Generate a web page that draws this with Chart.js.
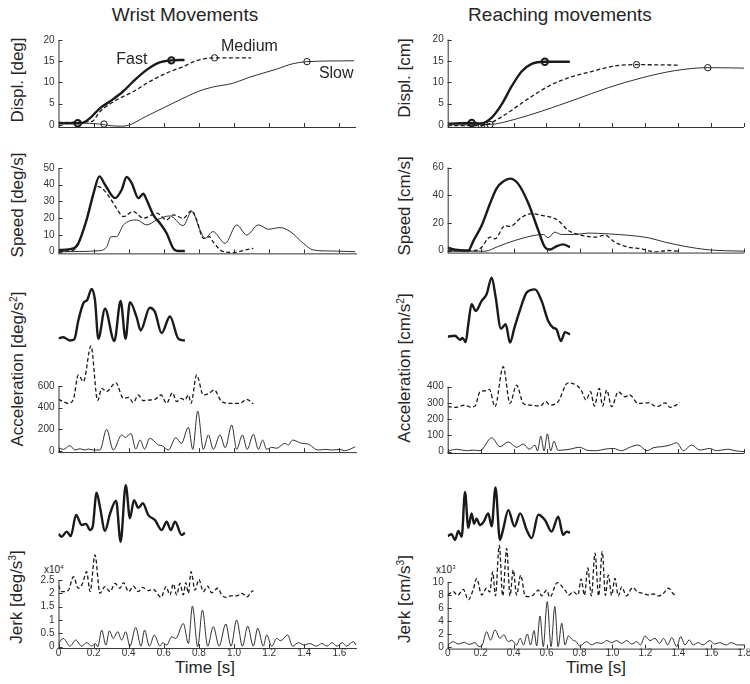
<!DOCTYPE html>
<html>
<head>
<meta charset="utf-8">
<script src="https://cdn.jsdelivr.net/npm/chart.js@4.4.1/dist/chart.umd.min.js"></script>
<style>
  body { margin: 0; width: 750px; height: 684px; position: relative; overflow: hidden; background: #fff;
         font-family: "Liberation Sans", Arial, sans-serif; color: #262626; }
  canvas { position: absolute; }
  .txt { position: absolute; white-space: nowrap; transform: translate(-50%, -50%); }
  .ylab { position: absolute; white-space: nowrap; font-size: 17px; transform: translate(-50%, -50%) rotate(-90deg); }
  .ylab sup, .mult sup { font-size: 0.6em; }
  .mult { position: absolute; white-space: nowrap; font-size: 10px; }
</style>
</head>
<body>
<div class="txt" style="left:185px;top:15px;font-size:19px">Wrist Movements</div>
<div class="txt" style="left:560px;top:15px;font-size:19px">Reaching movements</div>

<div class="ylab" style="left:18px;top:80px">Displ. [deg]</div>
<div class="ylab" style="left:405px;top:78px">Displ. [cm]</div>
<div class="ylab" style="left:18px;top:205px">Speed [deg/s]</div>
<div class="ylab" style="left:405px;top:206px">Speed [cm/s]</div>
<div class="ylab" style="left:18px;top:369px">Acceleration [deg/s<sup>2</sup>]</div>
<div class="ylab" style="left:405px;top:368px">Acceleration [cm/s<sup>2</sup>]</div>
<div class="ylab" style="left:17px;top:597px">Jerk [deg/s<sup>3</sup>]</div>
<div class="ylab" style="left:405px;top:599px">Jerk [cm/s<sup>3</sup>]</div>

<div class="mult" style="left:44px;top:564px">x10<sup>4</sup></div>
<div class="mult" style="left:436px;top:564px">x10<sup>3</sup></div>

<div class="txt" style="left:205px;top:668px;font-size:17px">Time [s]</div>
<div class="txt" style="left:596px;top:668px;font-size:17px">Time [s]</div>

<script>
// ---- tick values / labels ----
const wristTimeTicks = [0, 0.2, 0.4, 0.6, 0.8, 1.0, 1.2, 1.4, 1.6];
const wristTimeLabels = ['0', '0.2', '0.4', '0.6', '0.8', '1.0', '1.2', '1.4', '1.6'];
const reachTimeTicks = [0, 0.2, 0.4, 0.6, 0.8, 1.0, 1.2, 1.4, 1.6, 1.8];
const reachTimeLabels = ['0', '0.2', '0.4', '0.6', '0.8', '1.0', '1.2', '1.4', '1.6', '1.8'];
const dispTicks = [0, 5, 10, 15, 20];
const wristSpeedTicks = [0, 10, 20, 30, 40, 50];
const reachSpeedTicks = [0, 20, 40, 60];
const wristAccTicks = [0, 200, 400, 600];
const reachAccTicks = [0, 100, 200, 300, 400];
const wristJerkTicks = [0, 0.5, 1, 1.5, 2, 2.5];
const reachJerkTicks = [0, 2, 4, 6, 8, 10];

// ---- displacement [t, value] ----
const wristDispFast = [[0,0.4],[0.13,0.4],[0.18,1.6],[0.236,3.9],[0.293,5.5],[0.367,7.8],[0.426,10.2],[0.502,12.9],[0.578,14.7],[0.645,15.2],[0.72,15.3]];
const wristDispMedium = [[0,0.6],[0.19,0.8],[0.236,3.1],[0.293,4.9],[0.35,6.3],[0.426,7.8],[0.52,10.2],[0.617,12.2],[0.71,13.7],[0.787,15.1],[0.892,15.8],[1.1,15.8]];
const wristDispSlow = [[0,0.5],[0.236,0.2],[0.3,-0.2],[0.36,-0.3],[0.4,-0.1],[0.5,2.0],[0.654,5.1],[0.806,8.0],[0.88,8.9],[0.996,9.8],[1.09,11.2],[1.243,13.1],[1.338,14.4],[1.42,14.9],[1.69,15.1]];
const wristDispMarks = {fast: [[0.11,0.4],[0.645,15.2]], medium: [[0.26,0.2],[0.892,15.8]], slow: [[1.42,14.9]]};

const reachDispFast = [[0,0.3],[0.146,0.45],[0.2,0.3],[0.267,1.7],[0.328,4.8],[0.388,9.0],[0.449,12.5],[0.51,14.3],[0.59,14.8],[0.742,14.8]];
const reachDispMedium = [[0,-0.2],[0.206,-0.2],[0.328,1.9],[0.469,5.6],[0.61,9.0],[0.732,11.0],[0.874,12.5],[1.015,13.8],[1.147,14.1],[1.41,14.0]];
const reachDispSlow = [[0,0],[0.257,0.1],[0.408,1.3],[0.57,3.2],[0.772,5.9],[0.975,8.7],[1.177,11.0],[1.38,12.7],[1.58,13.4],[1.8,13.3]];
const reachDispMarks = {fast: [[0.146,0.45],[0.59,14.8]], medium: [[0.206,-0.2],[1.147,14.1]], slow: [[0.257,0.1],[1.58,13.4]]};

// ---- speed ----
const wristSpeedFast = [[0,1],[0.085,2],[0.113,5],[0.16,19],[0.2,35],[0.233,45],[0.265,40],[0.322,32],[0.36,37],[0.388,44.6],[0.417,41],[0.455,32],[0.483,34.6],[0.502,31],[0.54,22],[0.578,17],[0.616,11],[0.654,2],[0.683,0.4],[0.72,0.4]];
const wristSpeedMedium = [[0,0.4],[0.085,1],[0.142,13],[0.18,27],[0.217,39],[0.246,38],[0.294,32],[0.33,26],[0.37,21],[0.426,24],[0.483,20],[0.56,23],[0.616,19],[0.654,22],[0.71,20],[0.759,24.6],[0.787,19],[0.825,8],[0.86,9],[0.88,6],[0.94,0],[0.996,-0.5],[1.063,1],[1.11,2]];
const wristSpeedSlow = [[0,0],[0.236,0.6],[0.275,3],[0.3,9],[0.33,9],[0.37,16],[0.445,19],[0.502,16],[0.56,19],[0.635,21.4],[0.71,15.6],[0.759,24],[0.806,13],[0.835,8],[0.88,12],[0.95,5],[1.015,16],[1.072,10],[1.139,16],[1.196,13.4],[1.262,14.4],[1.32,12],[1.395,5],[1.452,1],[1.566,0.4],[1.69,0]];

const reachSpeedFast = [[0,2],[0.045,0.5],[0.125,0],[0.156,7],[0.206,18],[0.257,34],[0.297,45],[0.338,50],[0.378,52],[0.429,48],[0.49,34],[0.55,14.5],[0.59,2.4],[0.62,0.7],[0.66,3],[0.7,4.4],[0.742,2.4]];
const reachSpeedMedium = [[0,0],[0.166,0],[0.206,2.4],[0.257,9.7],[0.287,8.5],[0.348,18],[0.378,17.4],[0.449,24],[0.51,26.6],[0.57,25.4],[0.63,24],[0.67,21.8],[0.732,14.5],[0.813,11],[0.894,9.7],[0.955,11],[1.015,6],[1.096,2.4],[1.177,1.2],[1.258,-1],[1.34,0],[1.4,-0.5]];
const reachSpeedSlow = [[0,-0.5],[0.227,-0.5],[0.307,3],[0.409,7.3],[0.53,11],[0.58,11.6],[0.61,9.2],[0.65,13.3],[0.69,11.6],[0.77,11.6],[0.854,12.6],[0.975,12],[1.096,11],[1.218,9.2],[1.32,6],[1.44,3],[1.58,0.5],[1.7,-0.2],[1.8,-0.5]];

// ---- acceleration (fast / medium shifted up as in the figure) ----
const wristAccFast = [[0,1040],[0.027,1050],[0.066,1020],[0.09,1030],[0.113,1205],[0.142,1365],[0.164,1396],[0.189,1497],[0.208,1390],[0.227,1036],[0.265,1313],[0.318,1015],[0.354,1384],[0.382,1036],[0.407,1374],[0.445,1236],[0.468,1113],[0.52,1323],[0.55,1282],[0.587,1088],[0.635,1242],[0.683,1036],[0.72,1020]];
const wristAccMedium = [[0,477],[0.027,455],[0.056,440],[0.085,477],[0.113,702],[0.142,640],[0.185,970],[0.223,465],[0.246,578],[0.274,548],[0.326,631],[0.37,486],[0.4,495],[0.426,446],[0.455,517],[0.483,465],[0.512,470],[0.55,477],[0.584,517],[0.616,440],[0.649,538],[0.673,455],[0.698,486],[0.72,470],[0.74,517],[0.755,440],[0.787,702],[0.825,517],[0.858,532],[0.888,563],[0.93,455],[0.987,440],[1.034,440],[1.072,477],[1.11,434]];
const wristAccSlow = [[0,31],[0.027,15],[0.065,49],[0.094,9],[0.122,21],[0.15,9],[0.17,18],[0.2,9],[0.236,9],[0.274,200],[0.312,9],[0.36,148],[0.38,126],[0.413,160],[0.44,18],[0.465,101],[0.49,18],[0.52,117],[0.57,55],[0.59,49],[0.626,9],[0.668,123],[0.70,71],[0.74,218],[0.765,15],[0.793,369],[0.825,15],[0.854,148],[0.882,15],[0.92,148],[0.95,30],[0.987,240],[1.015,15],[1.048,148],[1.075,15],[1.11,154],[1.139,15],[1.163,101],[1.186,15],[1.215,34],[1.243,25],[1.29,71],[1.31,55],[1.333,101],[1.385,71],[1.42,65],[1.48,9],[1.52,15],[1.56,9],[1.6,15],[1.63,3],[1.66,15],[1.69,40]];

const reachAccFast = [[0,708],[0.044,714],[0.075,689],[0.09,700],[0.109,675],[0.125,784],[0.145,907],[0.17,866],[0.206,928],[0.236,969],[0.267,1071],[0.29,958],[0.323,757],[0.352,784],[0.378,671],[0.405,763],[0.44,876],[0.479,979],[0.53,999],[0.57,928],[0.61,804],[0.64,763],[0.66,753],[0.687,681],[0.712,736],[0.742,722]];
const reachAccMedium = [[0,277],[0.044,273],[0.105,287],[0.135,275],[0.166,281],[0.196,369],[0.226,375],[0.253,383],[0.287,277],[0.337,523],[0.378,297],[0.418,410],[0.459,297],[0.5,287],[0.56,281],[0.596,308],[0.62,287],[0.67,308],[0.73,424],[0.78,410],[0.81,379],[0.84,318],[0.867,369],[0.89,281],[0.92,390],[0.94,281],[0.965,379],[0.995,277],[1.035,369],[1.076,338],[1.105,349],[1.155,297],[1.217,301],[1.27,277],[1.32,301],[1.35,273],[1.41,301]];
const reachAccSlow = [[0,4],[0.054,15],[0.115,6],[0.155,10],[0.196,6],[0.267,86],[0.317,31],[0.368,60],[0.418,27],[0.459,47],[0.495,15],[0.53,40],[0.545,5],[0.565,95],[0.585,5],[0.605,110],[0.625,5],[0.645,65],[0.67,8],[0.70,10],[0.74,15],[0.80,27],[0.85,8],[0.904,6],[0.95,15],[1.005,20],[1.055,6],[1.105,27],[1.155,41],[1.21,6],[1.25,25],[1.30,31],[1.35,41],[1.39,55],[1.43,6],[1.48,41],[1.53,10],[1.59,20],[1.63,6],[1.70,15],[1.75,5],[1.8,0]];

// ---- jerk (wrist in 1e4, reach in 1e3) ----
const wristJerkFast = [[0,4.22],[0.018,4.12],[0.047,4.31],[0.07,4.14],[0.1,4.93],[0.132,4.56],[0.157,4.6],[0.18,4.37],[0.195,4.5],[0.217,5.77],[0.236,5.24],[0.265,4.34],[0.294,4.99],[0.328,5.47],[0.354,3.93],[0.383,6.05],[0.407,4.81],[0.43,5.49],[0.455,5.2],[0.48,5.37],[0.512,4.93],[0.55,4.74],[0.588,4.37],[0.616,4.68],[0.64,4.37],[0.664,4.68],[0.702,4.18],[0.72,4.27]];
const wristJerkMedium = [[0,2.3],[0.018,2.06],[0.055,2.1],[0.085,2.62],[0.113,2.19],[0.137,2.37],[0.16,2.81],[0.18,2.06],[0.208,3.44],[0.236,2.0],[0.265,2.25],[0.294,2.06],[0.322,2.37],[0.35,2.19],[0.37,2.4],[0.4,2.06],[0.426,2.27],[0.455,2.06],[0.478,2.22],[0.512,2.1],[0.54,2.15],[0.584,1.85],[0.613,2.25],[0.635,1.94],[0.654,2.35],[0.673,1.94],[0.692,2.37],[0.711,1.94],[0.725,2.4],[0.74,2.0],[0.755,2.81],[0.778,2.12],[0.8,2.52],[0.825,2.06],[0.85,2.27],[0.872,2.02],[0.907,2.19],[0.93,1.94],[0.95,1.85],[0.98,1.9],[1.015,1.9],[1.044,2.0],[1.075,1.87],[1.1,2.06],[1.11,2.1]];
const wristJerkSlow = [[0,0.12],[0.027,0.31],[0.066,0.02],[0.098,0.25],[0.132,0.02],[0.16,0.15],[0.19,0.02],[0.21,0.12],[0.224,0],[0.246,0.62],[0.27,0.06],[0.29,0.59],[0.312,0.31],[0.337,0.56],[0.36,0.25],[0.383,0.56],[0.407,0.02],[0.44,0.72],[0.47,0.02],[0.49,0.62],[0.518,0.02],[0.546,0.44],[0.578,0.02],[0.594,0.15],[0.616,0.06],[0.645,0.37],[0.668,0.31],[0.711,0.87],[0.74,0.12],[0.763,1.52],[0.793,0],[0.82,1.37],[0.85,0.02],[0.882,0.75],[0.915,0.02],[0.953,0.85],[0.983,0.02],[1.015,1.0],[1.048,0.02],[1.078,0.77],[1.11,0.02],[1.135,0.69],[1.167,0.02],[1.186,0.44],[1.215,0.02],[1.243,0.31],[1.265,0.22],[1.306,0.44],[1.333,0.02],[1.367,0.15],[1.4,0.06],[1.43,0.12],[1.47,0.02],[1.5,0.12],[1.53,0.02],[1.557,0.15],[1.587,0.02],[1.617,0.15],[1.64,0.02],[1.68,0.19],[1.695,0.06]];

const reachJerkFast = [[0,17.1],[0.024,17.4],[0.044,16.5],[0.065,17.9],[0.085,17.0],[0.105,23.9],[0.125,18.4],[0.145,20.6],[0.16,19.0],[0.175,19.8],[0.196,18.8],[0.218,19.3],[0.246,20.6],[0.267,18.6],[0.29,24.6],[0.317,16.5],[0.335,18.0],[0.368,21.1],[0.405,18.6],[0.44,20.6],[0.48,18.0],[0.51,16.8],[0.55,20.4],[0.59,19.6],[0.63,17.8],[0.671,20.1],[0.7,17.3],[0.722,17.8],[0.742,17.6]];
const reachJerkMedium = [[0,8.05],[0.034,8.56],[0.06,8.0],[0.095,8.9],[0.125,7.3],[0.155,8.9],[0.176,10.6],[0.206,8.05],[0.236,9.1],[0.255,8.5],[0.273,11.6],[0.29,7.9],[0.313,15.7],[0.334,7.9],[0.358,15.2],[0.378,7.9],[0.398,11.9],[0.418,8.05],[0.443,11.1],[0.47,7.9],[0.49,7.8],[0.52,8.05],[0.55,8.8],[0.57,7.9],[0.6,8.8],[0.62,7.7],[0.665,9.95],[0.712,8.8],[0.735,8.05],[0.762,8.56],[0.79,8.05],[0.81,10.5],[0.83,8.0],[0.85,12.2],[0.872,7.9],[0.894,14.5],[0.916,7.9],[0.938,14.7],[0.957,8.0],[0.975,11.1],[0.995,8.0],[1.015,10.6],[1.035,7.9],[1.056,9.3],[1.085,7.9],[1.122,9.2],[1.15,8.56],[1.187,8.3],[1.22,8.05],[1.25,8.2],[1.28,7.9],[1.31,8.3],[1.339,9.1],[1.37,8.2],[1.394,8.05]];
const reachJerkSlow = [[0,0.36],[0.034,0.87],[0.064,0.5],[0.1,0.77],[0.13,0.45],[0.166,0.72],[0.19,0.1],[0.21,0.36],[0.236,2.4],[0.26,1.1],[0.287,2.67],[0.317,1.38],[0.34,1.9],[0.368,0.87],[0.388,1.1],[0.418,0.36],[0.44,1.38],[0.46,0.36],[0.483,2.05],[0.503,0.36],[0.524,2.56],[0.54,0.2],[0.56,4.82],[0.58,0.1],[0.604,7.03],[0.627,0.1],[0.65,6.26],[0.67,0.1],[0.692,3.7],[0.712,0.36],[0.732,1.74],[0.758,1.13],[0.78,0.87],[0.8,0.2],[0.843,0.87],[0.873,0.36],[0.904,0.72],[0.935,0.6],[0.965,1.03],[0.995,0.72],[1.025,1.03],[1.055,0.6],[1.086,1.03],[1.117,0.5],[1.147,0.87],[1.17,0.36],[1.197,1.74],[1.228,1.03],[1.258,1.38],[1.285,0.6],[1.31,1.38],[1.335,0.36],[1.36,1.49],[1.39,0.1],[1.414,1.64],[1.44,0.36],[1.466,1.13],[1.49,0.36],[1.52,0.72],[1.55,0.36],[1.59,1.03],[1.62,0.5],[1.65,0.72],[1.69,0.36],[1.72,0.72],[1.76,0.36],[1.8,0.36]];

const FONT = '"Liberation Sans", Arial, sans-serif';
const INK = '#1a1a1a';
const STYLE = {
  fast: {width: 2.4, dash: []},
  medium: {width: 1.3, dash: [4, 2.5]},
  slow: {width: 0.9, dash: []}
};

const WRIST = {left: 58.5, right: 356.9, xMax: 1.7, ticks: wristTimeTicks, labels: wristTimeLabels};
const REACH = {left: 447.7, right: 744.3, xMax: 1.8, ticks: reachTimeTicks, labels: reachTimeLabels};

// MATLAB-ish axes: short y axis up to the last tick, inward ticks, text notes
const axesPlugin = {
  id: 'matlabAxes',
  afterDraw(chart, args, opts) {
    const {ctx, chartArea: a} = chart;
    const x = chart.scales.x, y = chart.scales.y;
    ctx.save();
    ctx.strokeStyle = '#333';
    ctx.lineWidth = 1;
    ctx.beginPath();
    const yTop = y.getPixelForValue(opts.axisTop);
    ctx.moveTo(a.left + 0.5, a.bottom + 0.5);
    ctx.lineTo(a.left + 0.5, yTop);
    ctx.moveTo(a.left, a.bottom + 0.5);
    ctx.lineTo(a.right, a.bottom + 0.5);
    x.ticks.forEach(t => {
      const px = Math.round(x.getPixelForValue(t.value)) + 0.5;
      ctx.moveTo(px, a.bottom);
      ctx.lineTo(px, a.bottom - 4);
    });
    y.ticks.forEach(t => {
      const py = Math.round(y.getPixelForValue(t.value)) + 0.5;
      ctx.moveTo(a.left, py);
      ctx.lineTo(a.left + 4, py);
    });
    ctx.stroke();
    (opts.notes || []).forEach(n => {
      ctx.fillStyle = '#262626';
      ctx.font = '16px ' + FONT;
      ctx.textAlign = 'center';
      ctx.textBaseline = 'middle';
      ctx.fillText(n.text, x.getPixelForValue(n.t), y.getPixelForValue(n.v));
    });
    ctx.restore();
  }
};

function makePanel(p) {
  const col = p.col;
  const top = p.y0 - p.yMax * p.ppu;
  const bottom = p.y0 - p.yMin * p.ppu;
  const yW = 50, xH = p.showX ? 18 : 2;
  const cl = Math.floor(col.left - yW), ct = Math.floor(top - 10);
  const cr = Math.min(750, Math.ceil(col.right + 5)), cb = Math.ceil(bottom + xH + 3);
  const cv = document.createElement('canvas');
  cv.width = cr - cl;
  cv.height = cb - ct;
  cv.style.left = cl + 'px';
  cv.style.top = ct + 'px';
  document.body.appendChild(cv);

  const datasets = [];
  ['fast', 'medium', 'slow'].forEach(k => {
    datasets.push({
      data: p.series[k], borderColor: INK, borderWidth: STYLE[k].width, borderDash: STYLE[k].dash,
      pointRadius: 0, fill: false, cubicInterpolationMode: 'monotone'
    });
    if (p.marks && p.marks[k]) {
      datasets.push({
        data: p.marks[k], showLine: false, pointStyle: 'circle', pointRadius: 3.2,
        pointBorderWidth: k === 'fast' ? 2 : 1, pointBorderColor: INK, pointBackgroundColor: 'rgba(0,0,0,0)'
      });
    }
  });

  const tickFont = {size: 10, family: FONT};
  new Chart(cv, {
    type: 'line',
    data: {datasets},
    options: {
      responsive: false, animation: false, devicePixelRatio: 1, events: [],
      layout: {padding: {left: col.left - yW - cl, top: top - ct, right: cr - col.right, bottom: cb - bottom - xH}},
      plugins: {
        legend: {display: false}, tooltip: {enabled: false},
        matlabAxes: {axisTop: p.yTicks[p.yTicks.length - 1], notes: p.notes}
      },
      scales: {
        x: {
          type: 'linear', min: 0, max: col.xMax,
          afterBuildTicks: s => { s.ticks = col.ticks.map(v => ({value: v})); },
          afterFit: s => { s.height = xH; s.paddingLeft = 0; s.paddingRight = 0; },
          grid: {display: false, drawTicks: false}, border: {display: false},
          ticks: {display: !!p.showX, autoSkip: false, maxRotation: 0, padding: -1, color: '#333', font: tickFont,
                  callback: (v, i) => col.labels[i]}
        },
        y: {
          type: 'linear', min: p.yMin, max: p.yMax,
          afterBuildTicks: s => { s.ticks = p.yTicks.map(v => ({value: v})); },
          afterFit: s => { s.width = yW; s.paddingTop = 0; s.paddingBottom = 0; },
          grid: {display: false, drawTicks: false}, border: {display: false},
          ticks: {autoSkip: false, padding: 4, color: '#333', font: tickFont, callback: v => String(v)}
        }
      }
    },
    plugins: [axesPlugin]
  });
}

makePanel({col: WRIST, y0: 125, ppu: 4.25, yMin: -0.5, yMax: 20, yTicks: dispTicks,
  series: {fast: wristDispFast, medium: wristDispMedium, slow: wristDispSlow}, marks: wristDispMarks,
  notes: [{text: 'Fast', t: 0.419, v: 15.3}, {text: 'Medium', t: 1.091, v: 18.4}, {text: 'Slow', t: 1.587, v: 12.0}]});
makePanel({col: REACH, y0: 125.5, ppu: 4.3, yMin: -0.5, yMax: 20, yTicks: dispTicks,
  series: {fast: reachDispFast, medium: reachDispMedium, slow: reachDispSlow}, marks: reachDispMarks});

makePanel({col: WRIST, y0: 251.7, ppu: 1.674, yMin: -1, yMax: 50, yTicks: wristSpeedTicks,
  series: {fast: wristSpeedFast, medium: wristSpeedMedium, slow: wristSpeedSlow}});
makePanel({col: REACH, y0: 250.5, ppu: 1.383, yMin: -1.5, yMax: 60, yTicks: reachSpeedTicks,
  series: {fast: reachSpeedFast, medium: reachSpeedMedium, slow: reachSpeedSlow}});

makePanel({col: WRIST, y0: 451, ppu: 0.10833, yMin: -10, yMax: 1560, yTicks: wristAccTicks,
  series: {fast: wristAccFast, medium: wristAccMedium, slow: wristAccSlow}});
makePanel({col: REACH, y0: 451.7, ppu: 0.1625, yMin: -8, yMax: 1100, yTicks: reachAccTicks,
  series: {fast: reachAccFast, medium: reachAccMedium, slow: reachAccSlow}});

makePanel({col: WRIST, y0: 646.7, ppu: 26.7, yMin: -0.05, yMax: 6.3, yTicks: wristJerkTicks, showX: true,
  series: {fast: wristJerkFast, medium: wristJerkMedium, slow: wristJerkSlow}});
makePanel({col: REACH, y0: 647.3, ppu: 6.5, yMin: -0.2, yMax: 25.5, yTicks: reachJerkTicks, showX: true,
  series: {fast: reachJerkFast, medium: reachJerkMedium, slow: reachJerkSlow}});
</script>
</body>
</html>
